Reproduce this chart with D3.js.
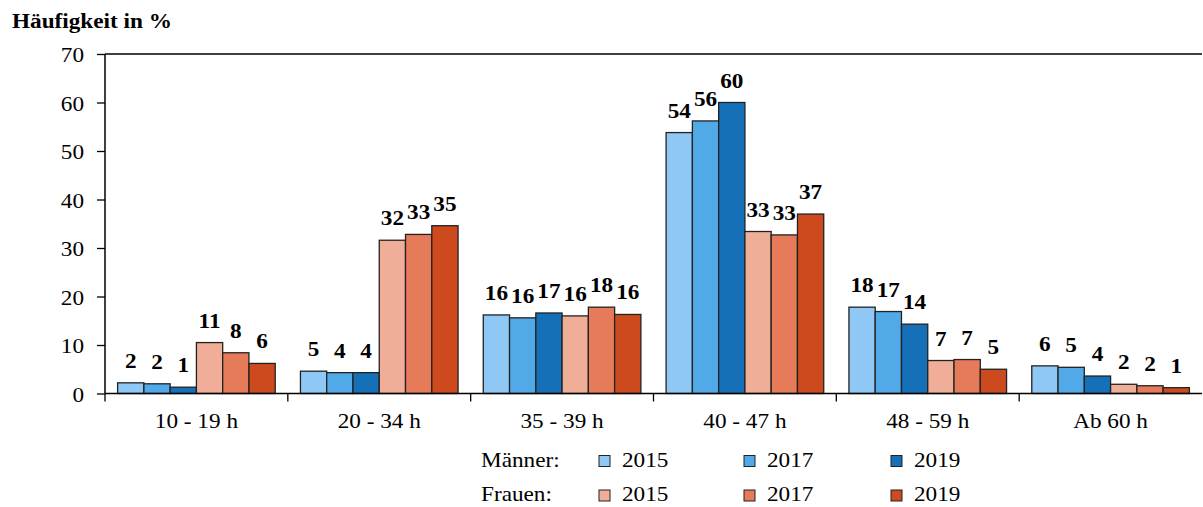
<!DOCTYPE html>
<html><head><meta charset="utf-8">
<script src="https://cdn.jsdelivr.net/npm/d3@7"></script>
<style>body{margin:0;background:#fff}svg{display:block}svg text{font-family:"Liberation Serif",Tinos,"Times New Roman","DejaVu Serif",serif !important}</style>
</head><body><svg id="c" width="1203" height="507"></svg>
<script>
const categories = ["10 - 19 h","20 - 34 h","35 - 39 h","40 - 47 h","48 - 59 h","Ab 60 h"];
const seriesNames = ["Männer 2015","Männer 2017","Männer 2019","Frauen 2015","Frauen 2017","Frauen 2019"];
const m2015 = [2.2, 4.6, 16.2, 53.8, 17.8, 5.7];
const m2017 = [2.0, 4.3, 15.6, 56.2, 16.9, 5.4];
const m2019 = [1.3, 4.3, 16.6, 60.0, 14.3, 3.6];
const f2015 = [10.5, 31.6, 16.0, 33.4, 6.8, 1.9];
const f2017 = [8.4, 32.8, 17.8, 32.7, 7.0, 1.6];
const f2019 = [6.2, 34.6, 16.3, 37.0, 5.0, 1.2];
const labels = [
  [2,5,16,54,18,6],[2,4,16,56,17,5],[1,4,17,60,14,4],
  [11,32,16,33,7,2],[8,33,18,33,7,2],[6,35,16,37,5,1]];
const yTicks = [0,10,20,30,40,50,60,70];
const colors = ["#8fc8f4","#52a9e8","#1570b8","#f0ae98","#e57b58","#cc4a1e"];
const values = [m2015,m2017,m2019,f2015,f2017,f2019];

const SX = 1.08;
const svg = d3.select("#c");
const L = 105, R = 1202, T = 54, B = 393.5;
const x = d3.scaleBand().domain(categories).range([L, R]).paddingInner(0).paddingOuter(0);
const xs = d3.scaleBand().domain(seriesNames).range([0, x.bandwidth()]).paddingOuter(0.48).paddingInner(0);
const y = d3.scaleLinear().domain([0,70]).range([B, T]);

function txt(px, py, s, size, opts={}) {
  const t = svg.append("text").attr("transform",`translate(${px},${py}) scale(${SX},1)`)
    .attr("font-size",size).attr("fill","#000").text(s);
  if (opts.bold) t.attr("font-weight","bold");
  if (opts.anchor) t.attr("text-anchor",opts.anchor);
  return t;
}

svg.append("line").attr("x1",L).attr("x2",R).attr("y1",T).attr("y2",T).attr("stroke","#000").attr("stroke-width",1.5);

categories.forEach((c,i)=>{
  seriesNames.forEach((s,j)=>{
    const v = values[j][i];
    svg.append("rect").attr("x",x(c)+xs(s)).attr("y",y(v)).attr("width",xs.bandwidth()).attr("height",B-y(v))
      .attr("fill",colors[j]).attr("stroke","#222").attr("stroke-width",1.3);
  });
});
categories.forEach((c,i)=>{
  seriesNames.forEach((s,j)=>{
    const v = values[j][i];
    txt(x(c)+xs(s)+xs.bandwidth()/2, y(v)-15, labels[j][i], 21.5, {bold:true, anchor:"middle"});
  });
});

const ya = svg.append("g").attr("transform",`translate(${L},0)`).call(d3.axisLeft(y).tickValues(yTicks).tickSize(8).tickPadding(13));
ya.select(".domain").attr("stroke","#000").attr("stroke-width",1.5).attr("d",`M0,${T}V${B}`);
ya.selectAll(".tick line").attr("stroke","#000").attr("stroke-width",1.3);
ya.selectAll("text").attr("font-size",21.5).attr("fill","#000").attr("x",null).attr("dy",null)
  .attr("transform",`translate(-21,7.5) scale(${SX},1)`);

const xa = svg.append("g").attr("transform",`translate(0,${B})`);
xa.append("line").attr("x1",L).attr("x2",R).attr("stroke","#000").attr("stroke-width",1.5);
const bounds = d3.range(categories.length).map(i=>L+i*x.step());
xa.selectAll("line.t").data(bounds).join("line").attr("class","t").attr("x1",d=>d).attr("x2",d=>d).attr("y1",0).attr("y2",8).attr("stroke","#000").attr("stroke-width",1.3);
categories.forEach(c=>txt(x(c)+x.bandwidth()/2, B+34.5, c, 21.5, {anchor:"middle"}));

txt(12, 28, "Häufigkeit in %", 21.5, {bold:true});

const legRows = ["Männer:","Frauen:"];
const legCols = ["2015","2017","2019"];
const colX = [599, 744, 891];
legRows.forEach((r,ri)=>{
  const base = 466.5 + ri*34.5;
  txt(481, base, r, 21.5);
  legCols.forEach((c,ci)=>{
    svg.append("rect").attr("x",colX[ci]).attr("y",base-11).attr("width",11).attr("height",11)
      .attr("fill",colors[ri*3+ci]).attr("stroke","#222").attr("stroke-width",1);
    txt(colX[ci]+23, base, c, 21.5);
  });
});
</script></body></html>
